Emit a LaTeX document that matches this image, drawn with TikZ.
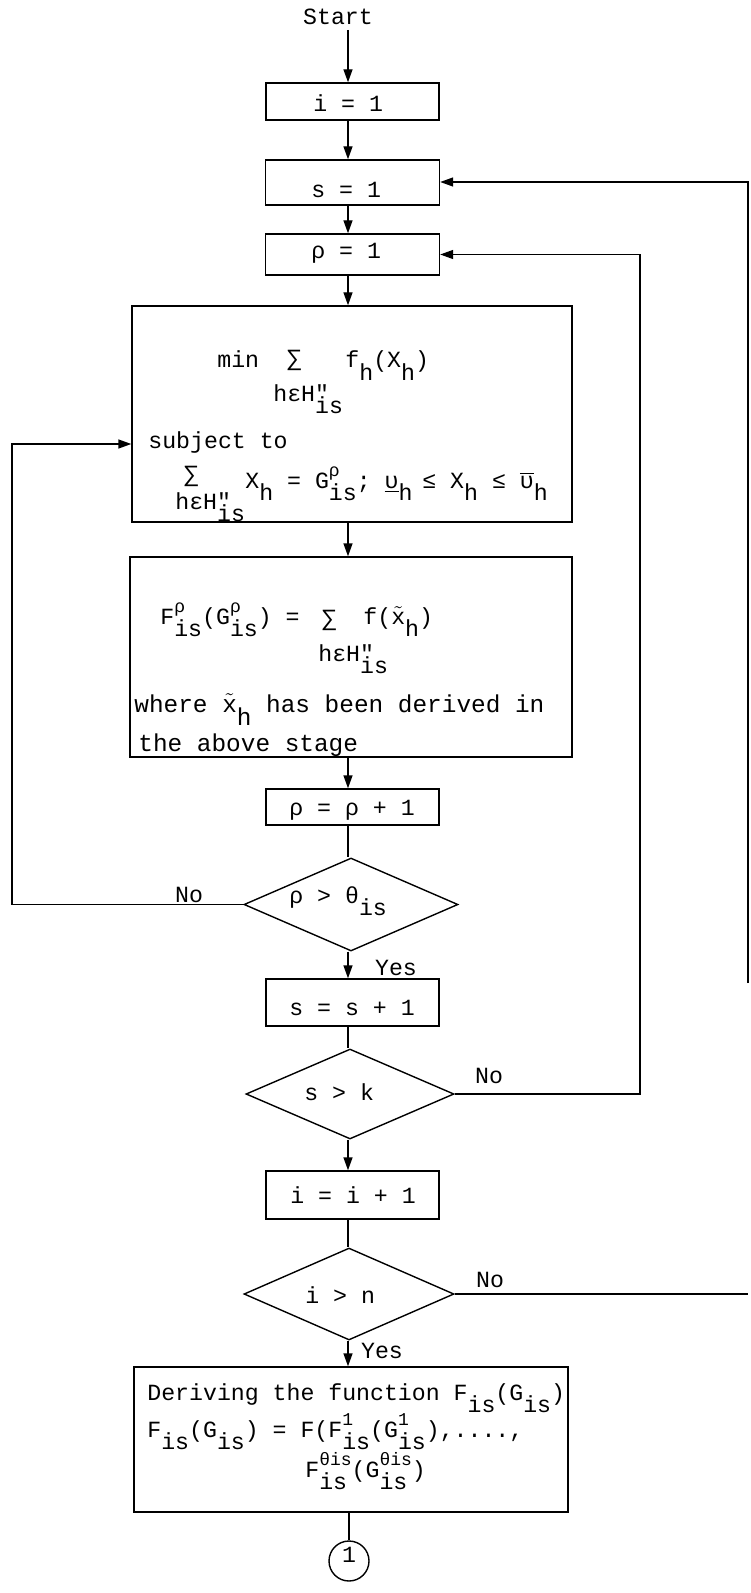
\documentclass[tikz,border=0pt]{standalone}
\usepackage{fontspec}
\setmonofont{Liberation Mono}
\usetikzlibrary{shapes.geometric,arrows.meta}
\newcommand{\lo}[1]{\raisebox{-0.55em}{#1}}
\newcommand{\up}[1]{\raisebox{0.5em}{\fontsize{9}{9}\selectfont #1}}
\newcommand{\ud}[2]{{\setbox0\hbox{\up{#1}}\setbox2\hbox{\lo{#2}}\ifdim\wd0>\wd2 \rlap{\box2}\box0 \else\rlap{\box0}\box2 \fi}}
\newcommand{\dq}{\rlap{"}\lo{is}}
\newcommand{\ubar}{$\underline{\hbox{υ}}$}
\newcommand{\obar}{$\overline{\hbox{υ}}$}
\newcommand{\xt}{$\tilde{\hbox{x}}$}
\begin{document}
\begin{tikzpicture}[x=0.5pt,y=-0.5pt,
  box/.style={draw, line width=0.7pt, inner sep=0pt},
  dia/.style={draw, diamond, line width=0.7pt, inner sep=0pt},
  txt/.style={inner sep=0pt, anchor=base west, font=\ttfamily\fontsize{11.6}{13}\selectfont},
  lab/.style={inner sep=0pt, anchor=base, font=\ttfamily\fontsize{11.6}{13}\selectfont},
  arr/.style={line width=0.7pt, -{Triangle[length=6.5pt,width=4.5pt]}},
  ln/.style={line width=0.7pt}]
\useasboundingbox (0,0) rectangle (750,1593);

% boxes
\node[box, minimum width=86.5pt, minimum height=18.5pt] (i1) at (352.5,101.5) {};
\node[box, minimum width=87pt, minimum height=22.5pt] (s1) at (352.5,182.5) {};
\node[box, minimum width=87pt, minimum height=20.5pt] (r1) at (352.5,254.5) {};
\node[box, minimum width=220pt, minimum height=108pt] (b1) at (352,414) {};
\node[box, minimum width=221pt, minimum height=100pt] (b2) at (351,657) {};
\node[box, minimum width=86.5pt, minimum height=18pt] (rr) at (352.5,807) {};
\node[dia, minimum width=107pt, minimum height=46.5pt] (d1) at (351,904.5) {};
\node[box, minimum width=86.5pt, minimum height=23.5pt] (s2) at (352.5,1002.5) {};
\node[dia, minimum width=104pt, minimum height=45pt] (d2) at (350,1094) {};
\node[box, minimum width=86.5pt, minimum height=24pt] (i2) at (352.5,1195) {};
\node[dia, minimum width=105pt, minimum height=46pt] (d3) at (349,1294) {};
\node[box, minimum width=217pt, minimum height=72.5pt] (fin) at (351,1439.5) {};
\node[draw, circle, line width=0.7pt, minimum size=20pt, inner sep=0pt] (c1) at (349,1561) {};

% texts
\node[lab] (tstart) at (338,25) {Start};
\node[txt] (ti1) at (313,112) {i = 1};
\node[txt] (ts1) at (311,198) {s = 1};
\node[txt] (tr1) at (311,259) {ρ = 1};

\node[txt] (tm1) at (217,368) {min};
\node[txt] (tm2) at (287,366) {∑};
\node[txt] (tm3) at (345,368) {f\lo{h}(X\lo{h})};
\node[txt] (tm4) at (273,401) {hεH\dq};
\node[txt] (tm5) at (148,448) {subject to};
\node[txt] (tm6) at (184,481) {∑};
\node[txt] (tm7) at (245,488) {X\lo{h} = G\ud{ρ}{is}; \ubar\lo{h}};
\node[txt] (tm8) at (422,488) {≤ X\lo{h} ≤ \obar\lo{h}};
\node[txt] (tm9) at (175,509) {hεH\dq};

\node[txt] (tn1) at (160,624) {F\ud{ρ}{is}(G\ud{ρ}{is}) =};
\node[txt] (tn2) at (322,625) {∑};
\node[txt] (tn3) at (363,624) {f(\xt\lo{h})};
\node[txt] (tn4) at (318,661) {hεH\dq};
\node[txt, font=\ttfamily\fontsize{12.2}{13}\selectfont] (tn5) at (134,712) {where \xt\lo{h} has been derived in};
\node[txt, font=\ttfamily\fontsize{12.2}{13}\selectfont] (tn6) at (138,751) {the above stage};

\node[txt] (trr) at (289,815) {ρ = ρ + 1};
\node[txt] (td1) at (289,903) {ρ > θ\lo{is}};
\node[txt] (ts2) at (289,1015) {s = s + 1};
\node[txt] (td2) at (304,1100) {s > k};
\node[txt] (ti2) at (290,1203) {i = i + 1};
\node[txt] (td3) at (305,1303) {i > n};

\node[txt] (tf1) at (147,1400) {Deriving the function F\lo{is}(G\lo{is})};
\node[txt] (tf2) at (147,1437) {F\lo{is}(G\lo{is}) = F(F\ud{1}{is}(G\ud{1}{is}),....,};
\node[txt] (tf3) at (305,1477) {F\ud{θis}{is}(G\ud{θis}{is})};
\node[lab] (tc) at (349,1562) {1};

\node[lab] (no1) at (189,902) {No};
\node[lab] (yes1) at (396,975) {Yes};
\node[lab] (no2) at (489,1083) {No};
\node[lab] (no3) at (490,1287) {No};
\node[lab] (yes2) at (382,1358) {Yes};

% connectors
\coordinate (ax) at (348,0);
\coordinate (st) at (348,30);
\draw[arr] (st) -- (i1.north -| st);
\draw[arr] (i1.south -| ax) -- (s1.north -| ax);
\draw[arr] (s1.south -| ax) -- (r1.north -| ax);
\draw[arr] (r1.south -| ax) -- (b1.north -| ax);
\draw[arr] (b1.south -| ax) -- (b2.north -| ax);
\draw[arr] (b2.south -| ax) -- (rr.north -| ax);
\draw[ln] (rr.south -| ax) -- (d1.north -| ax);
\draw[arr] (d1.south -| ax) -- (s2.north -| ax);
\draw[ln] (s2.south -| ax) -- (d2.north -| ax);
\draw[arr] (d2.south -| ax) -- (i2.north -| ax);
\draw[ln] (i2.south -| ax) -- (d3.north -| ax);
\draw[arr] (d3.south -| ax) -- (fin.north -| ax);
\draw[ln] (fin.south -| c1) -- (c1.north);

\coordinate (lin) at (12,444);
\draw[arr] (d1.west) -| (lin) -- (lin -| b1.west);
\coordinate (rin) at (640,254.5);
\draw[arr] (d2.east) -| (rin) -- (r1.east);
\coordinate (rtop) at (748,182);
\coordinate (rbot) at (748,983);
\draw[arr] (rbot) -- (rtop) -- (s1.east |- rtop);
\coordinate (rno) at (748,1291);
\draw[ln] (d3.east) -- (d3.east -| rno);
\end{tikzpicture}
\end{document}
